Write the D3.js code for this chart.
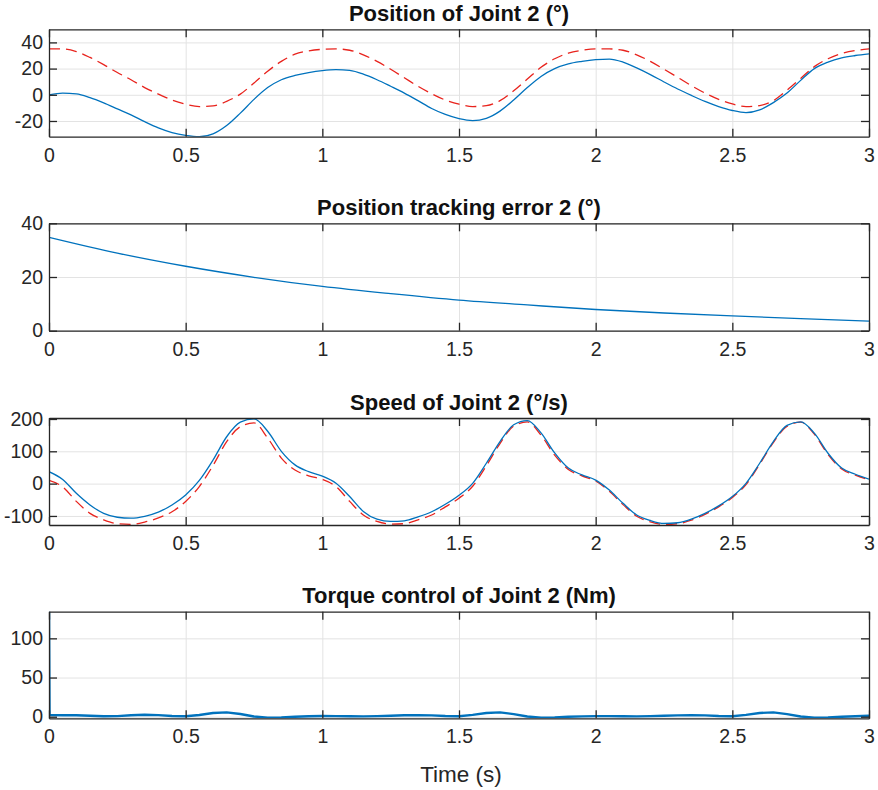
<!DOCTYPE html>
<html>
<head>
<meta charset="utf-8">
<script src="https://cdn.jsdelivr.net/npm/d3@7/dist/d3.min.js"></script>
<style>
  body { margin: 0; background: #fff; }
  svg { display: block; font-family: "Liberation Sans", Arial, sans-serif; }
  .tick text { font-size: 19.5px; fill: #262626; }
  .axis path, .axis line { stroke: #262626; stroke-width: 1.3; }
  .grid line { stroke: #e3e3e3; stroke-width: 1; }
  .grid path { display: none; }
</style>
</head>
<body>
<div id="chart"></div>
<script>
"use strict";

var width = 878, height = 790;
var plotLeft = 49, plotRight = 869;

// time grid of the sampled curves (s)
var time = d3.range(61).map(function (i) { return i * 0.05; });
var xTicks = [0, 0.5, 1, 1.5, 2, 2.5, 3];

// Joint 2 position (deg): reference (red dashed) and actual (blue)
var posRef = [35, 35, 33, 28.5, 23, 17, 11.5, 5.5, 0.5, -4, -7.2, -9, -8.5, -5, 0.5, 9, 18, 25.5, 31, 33.5,
  34.7, 35, 34, 30.5, 25.5, 19.5, 13, 6.5, 0.8, -4, -7.2, -9, -8.3, -4.5, 3, 12, 21, 27.5, 31.8, 34,
  35, 35, 34, 30.5, 25.5, 19.5, 13.3, 7, 1.3, -3.5, -7, -9, -8.2, -4.5, 3.5, 12.5, 21.5, 27.5, 31.5, 33.8, 35];
var posAct = [0, 1.3, 0.7, -2.2, -6.2, -10.8, -15.4, -20.5, -25.2, -28.8, -31, -32, -29.8, -23.5, -14, -3.5, 5.5, 11.5, 14.8, 17,
  18.5, 19.2, 18.6, 15.8, 11.5, 6.5, 1.3, -4.5, -10.5, -15, -18.2, -19.7, -18, -12.5, -4, 5.5, 14, 20, 23.6, 25.5,
  26.8, 27.3, 25, 20.5, 15.4, 9.8, 4.4, -0.5, -5.1, -9, -12, -13.6, -11.5, -6, 1.3, 11, 20, 25, 28.2, 30, 31.3];

// position tracking error (deg)
var errTime = [0, 0.25, 0.5, 0.75, 1, 1.25, 1.5, 1.75, 2, 2.25, 2.5, 2.75, 3];
var posErr = [34.8, 28.9, 24.0, 19.9, 16.5, 13.8, 11.4, 9.6, 7.9, 6.6, 5.5, 4.5, 3.6];

// Joint 2 speed (deg/s): reference (red dashed) and actual (blue)
var spdRef = [10, -10, -55, -92, -112, -124, -126, -119, -106, -87, -55, -9, 56, 130, 176, 188, 141, 79, 42, 24,
  13, -9, -55, -97, -117, -125, -124, -112, -97, -72, -45, -8, 55, 124, 178, 191, 150, 88, 44, 24,
  8, -24, -65, -101, -118, -126, -124, -113, -95, -72, -43, -3, 60, 127, 177, 190, 153, 90, 45, 26, 12];
var spdAct = [37, 13, -30, -66, -92, -104, -107, -101, -88, -66, -35, 10, 73, 145, 190, 200, 162, 100, 58, 37,
  23, 1, -40, -86, -110, -117, -115, -103, -87, -64, -36, 1, 63, 130, 182, 195, 157, 95, 48, 27,
  11, -20, -61, -97, -114, -123, -121, -110, -92, -69, -40, 1, 63, 130, 180, 191, 156, 94, 48, 29, 14];

// torque control (Nm), with the initial spike at t = 0
var torqueTime = [0, 0.002].concat(time.slice(1));
var torque = [140, 2, 1.8, 1.9, 1.3, 0.6, 0.8, 1.8, 2.5, 2, 1, 0.6, 2.2, 4.8, 5.6, 3.5, 0.3, -1.2, -0.9, 0, 0.6,
  0.9, 0.8, 0.6, 0.5, 0.8, 1.2, 1.8, 2, 1.7, 0.9, 0.6, 2.3, 4.8, 5.5, 3.4, 0.3, -1.1, -0.9, 0, 0.5,
  0.8, 0.8, 0.6, 0.5, 0.8, 1.2, 1.7, 2, 1.7, 0.9, 0.6, 2.3, 4.8, 5.5, 3.4, 0.3, -1.1, -0.9, 0, 0.6, 1.2];

var panels = [
  { title: "Position of Joint 2 (°)", top: 29.3, bottom: 136.7, domain: [-32, 50], yTicks: [-20, 0, 20, 40],
    series: [
      { t: time, v: posRef, color: "#e8231d", dash: "11,6", w: 1.3 },
      { t: time, v: posAct, color: "#0072bd", w: 1.3 }
    ] },
  { title: "Position tracking error 2 (°)", top: 223.3, bottom: 330.7, domain: [0, 40], yTicks: [0, 20, 40],
    series: [
      { t: errTime, v: posErr, color: "#0072bd", w: 1.3 }
    ] },
  { title: "Speed of Joint 2 (°/s)", top: 418, bottom: 525, domain: [-128, 203], yTicks: [-100, 0, 100, 200],
    series: [
      { t: time, v: spdRef, color: "#e8231d", dash: "11,6", w: 1.3 },
      { t: time, v: spdAct, color: "#0072bd", w: 1.3 }
    ] },
  { title: "Torque control of Joint 2 (Nm)", top: 611.7, bottom: 718.3, domain: [-2, 134], yTicks: [0, 50, 100],
    series: [
      { t: torqueTime, v: torque, color: "#0072bd", w: 2.4, linear: true }
    ] }
];

var svg = d3.select("#chart").append("svg")
    .attr("width", width)
    .attr("height", height);

var x = d3.scaleLinear().domain([0, 3]).range([plotLeft, plotRight]);
var fmt = function (d) { return String(d); };

panels.forEach(function (p, idx) {
    var y = d3.scaleLinear().domain(p.domain).range([p.bottom, p.top]);
    var g = svg.append("g").attr("class", "panel");
    var h = p.bottom - p.top, w = plotRight - plotLeft;

    g.append("clipPath").attr("id", "clip" + idx)
        .append("rect")
        .attr("x", plotLeft).attr("y", p.top)
        .attr("width", w).attr("height", h);

    // grid
    g.append("g").attr("class", "grid")
        .attr("transform", "translate(0," + p.bottom + ")")
        .call(d3.axisBottom(x).tickValues(xTicks).tickSize(-h).tickFormat(""));
    g.append("g").attr("class", "grid")
        .attr("transform", "translate(" + plotLeft + ",0)")
        .call(d3.axisLeft(y).tickValues(p.yTicks).tickSize(-w).tickFormat(""));

    // curves
    var lines = g.append("g").attr("clip-path", "url(#clip" + idx + ")");
    p.series.forEach(function (s) {
        var line = d3.line()
            .x(function (d, i) { return x(s.t[i]); })
            .y(function (d) { return y(d); })
            .curve(s.linear ? d3.curveLinear : d3.curveMonotoneX);
        lines.append("path")
            .datum(s.v)
            .attr("fill", "none")
            .attr("stroke", s.color)
            .attr("stroke-width", s.w)
            .attr("stroke-dasharray", s.dash || null)
            .attr("stroke-linejoin", "round")
            .attr("d", line);
    });

    // axes box with inward ticks
    g.append("g").attr("class", "axis")
        .attr("transform", "translate(0," + p.bottom + ")")
        .call(d3.axisBottom(x).tickValues(xTicks).tickSizeInner(-8).tickSizeOuter(0).tickPadding(11).tickFormat(fmt));
    g.append("g").attr("class", "axis")
        .attr("transform", "translate(0," + p.top + ")")
        .call(d3.axisTop(x).tickValues(xTicks).tickSizeInner(-8).tickSizeOuter(0).tickFormat(""));
    g.append("g").attr("class", "axis")
        .attr("transform", "translate(" + plotLeft + ",0)")
        .call(d3.axisLeft(y).tickValues(p.yTicks).tickSizeInner(-8).tickSizeOuter(0).tickPadding(6).tickFormat(fmt));
    g.append("g").attr("class", "axis")
        .attr("transform", "translate(" + plotRight + ",0)")
        .call(d3.axisRight(y).tickValues(p.yTicks).tickSizeInner(-8).tickSizeOuter(0).tickFormat(""));

    g.append("text")
        .attr("x", (plotLeft + plotRight) / 2)
        .attr("y", p.top - 8.5)
        .attr("text-anchor", "middle")
        .attr("font-size", "22px")
        .attr("font-weight", "bold")
        .attr("fill", "#111")
        .text(p.title);
});

svg.append("text")
    .attr("x", (plotLeft + plotRight) / 2 + 2)
    .attr("y", 782)
    .attr("text-anchor", "middle")
    .attr("font-size", "22.5px")
    .attr("fill", "#262626")
    .text("Time (s)");
</script>
</body>
</html>
